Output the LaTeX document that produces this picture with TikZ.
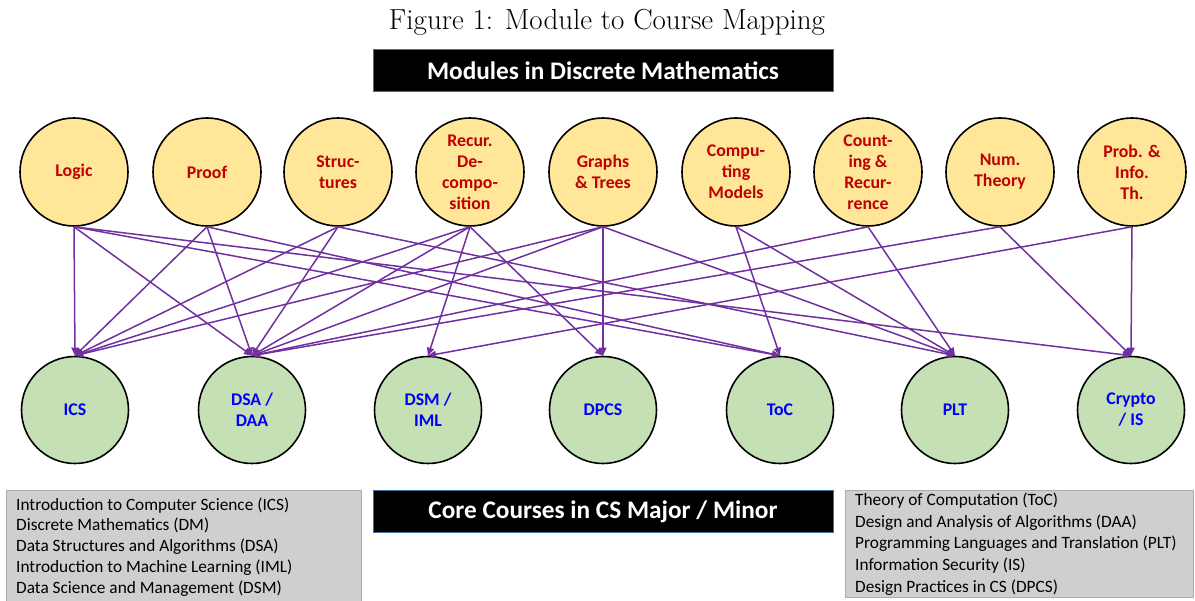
\documentclass[tikz,border=0pt]{standalone}
\usepackage{fontspec}
\newfontfamily\calfont{Carlito}
\usetikzlibrary{arrows.meta}
\definecolor{modfill}{HTML}{FFE699}
\definecolor{modtext}{HTML}{C00000}
\definecolor{crsfill}{HTML}{C5E0B4}
\definecolor{crstext}{HTML}{0000FF}
\definecolor{arrowc}{HTML}{7030A0}
\definecolor{legfill}{HTML}{D0CECE}
\definecolor{legdraw}{HTML}{AFABAB}
\definecolor{hdrborder}{HTML}{41719C}
\begin{document}
\begin{tikzpicture}[x=1pt,y=-1pt,
  module/.style={circle, draw=black, line width=1.6pt, fill=modfill, minimum size=108pt, inner sep=0pt, align=center, text=modtext, font=\calfont\bfseries\fontsize{17.8}{21}\selectfont},
  course/.style={circle, draw=black, line width=1.6pt, fill=crsfill, minimum size=107pt, inner sep=0pt, align=center, text=crstext, font=\calfont\bfseries\fontsize{17.8}{21}\selectfont},
  hdr/.style={fill=black, draw=hdrborder, line width=1pt, minimum width=460pt, minimum height=42pt, inner sep=0pt, text=white, font=\calfont\bfseries\fontsize{25.3}{30}\selectfont},
  legbox/.style={fill=legfill, draw=legdraw, line width=0.8pt, anchor=north west, inner sep=0pt},
  legtext/.style={anchor=west, inner sep=0pt, align=left, font=\calfont\fontsize{17.3}{21.2}\selectfont},
  link/.style={draw=arrowc, line width=1.5pt, -{Triangle[length=8pt,width=7pt]}}
]
\useasboundingbox (0,0) rectangle (1195,601);
\node[font=\fontsize{29}{34}\selectfont] (title) at (607,22) {Figure 1: Module to Course Mapping};
\node[hdr] (mods) at (603,71) {Modules in Discrete Mathematics};
\node[hdr] (core) at (603,512) {Core Courses in CS Major / Minor};

\node[module] (logic) at (74,172) {Logic};
\node[module] (proof) at (207,172) {Proof};
\node[module] (struc) at (338,172) {Struc-\\tures};
\node[module] (recur) at (470,172) {Recur.\\De-\\compo-\\sition};
\node[module] (graphs) at (603,172) {Graphs\\\& Trees};
\node[module] (compm) at (736,172) {Compu-\\ting\\Models};
\node[module] (count) at (868,172) {Count-\\ing \&\\Recur-\\rence};
\node[module] (numth) at (1000,172) {Num.\\Theory};
\node[module] (prob) at (1132,172) {Prob. \&\\Info.\\Th.};

\node[course] (ics) at (75,410) {ICS};
\node[course] (dsa) at (252,410) {DSA /\\DAA};
\node[course] (dsm) at (428,410) {DSM /\\IML};
\node[course] (dpcs) at (603,410) {DPCS};
\node[course] (toc) at (780,410) {ToC};
\node[course] (plt) at (955,410) {PLT};
\node[course] (crypto) at (1131,410) {Crypto\\/ IS};

\foreach \a/\b in {logic/ics, logic/dsa, logic/toc, logic/crypto,
  proof/ics, proof/dsa, proof/toc,
  struc/ics, struc/dsa, struc/plt,
  recur/ics, recur/dsa, recur/dsm, recur/dpcs,
  graphs/ics, graphs/dsa, graphs/dpcs, graphs/plt,
  compm/toc, compm/plt,
  count/dsa, count/plt,
  numth/dsa, numth/crypto,
  prob/dsm, prob/crypto}
  \draw[link] (\a.south) -- (\b.north);

\node[legbox, minimum width=355pt, minimum height=112pt] (legl) at (6,490) {};
\node[legtext, font=\calfont\fontsize{17.3}{20.8}\selectfont] (legltext) at ([xshift=10pt,yshift=-0.5pt]legl.west)
  {Introduction to Computer Science (ICS)\\Discrete Mathematics (DM)\\Data Structures and Algorithms (DSA)\\Introduction to Machine Learning (IML)\\Data Science and Management (DSM)};
\node[legbox, minimum width=348pt, minimum height=107pt] (legr) at (845,490) {};
\node[legtext, font=\calfont\fontsize{17.3}{21.7}\selectfont] (legrtext) at ([xshift=10pt]legr.west)
  {Theory of Computation (ToC)\\Design and Analysis of Algorithms (DAA)\\Programming Languages and Translation (PLT)\\Information Security (IS)\\Design Practices in CS (DPCS)};
\end{tikzpicture}
\end{document}
